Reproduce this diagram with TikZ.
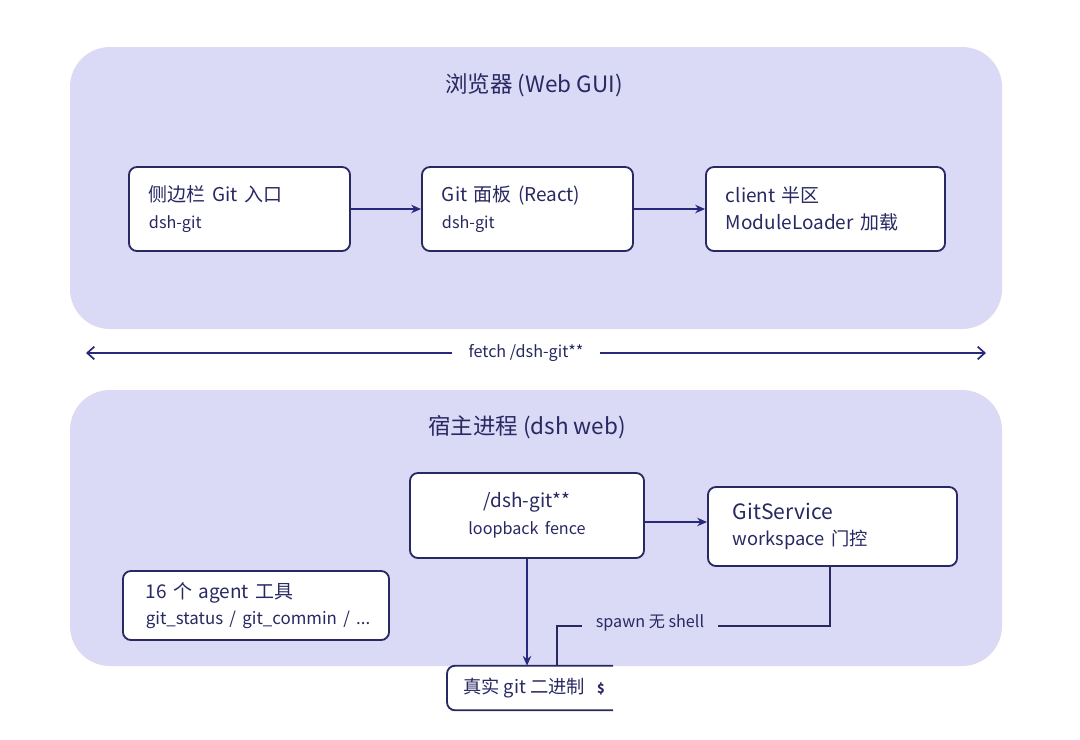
\documentclass[tikz,border=0pt]{standalone}
\usepackage{fontspec}
\setmainfont{Noto Sans CJK SC}
\usepackage{tikz}
\usetikzlibrary{arrows.meta,positioning}
\definecolor{panelfill}{RGB}{218,218,247}
\definecolor{navy}{RGB}{40,40,98}
\definecolor{inkblue}{RGB}{40,40,125}
\newcommand{\subline}[1]{{\fontsize{11.5}{19}\selectfont #1}}

\begin{document}
\begin{tikzpicture}[
  x=0.025cm, y=-0.025cm,
  title/.style={text=navy, font=\fontsize{16}{19}\selectfont},
  box/.style={draw=navy, line width=1.3pt, fill=white, rounded corners=0.2cm,
    align=left, inner xsep=0.5cm, inner ysep=0pt, text=navy,
    font=\fontsize{13.5}{19}\selectfont},
  arr/.style={draw=inkblue, line width=1.2pt, -{Stealth[length=7pt,width=6pt]}},
  link/.style={draw=navy, line width=1.1pt},
  lbl/.style={text=navy, font=\fontsize{11.5}{13}\selectfont, inner xsep=6pt}
]
\useasboundingbox[fill=white] (0,0) rectangle (1080,739);

% panels
\fill[panelfill] (70,47) [rounded corners=1cm] rectangle (1002,329);
\fill[panelfill] (70,390) [rounded corners=1cm] rectangle (1002,666);
\node[title] (webtitle) at (534,85) {浏览器 (Web GUI)};
\node[title] (hosttitle) at (527,427) {宿主进程 (dsh web)};

% browser side
\node[box, text width=4.525cm, minimum height=2.1cm] (sidebar) at (239.5,209)
  {侧边栏 Git 入口\\ \subline{dsh-git}};
\node[box, text width=4.275cm, minimum height=2.1cm] (panelui) at (527.5,209)
  {Git 面板 (React)\\ \subline{dsh-git}};
\node[box, text width=4.975cm, minimum height=2.1cm] (client) at (825.5,209)
  {client 半区\\ ModuleLoader 加载};
\draw[arr] (sidebar) -- (panelui);
\draw[arr] (panelui) -- (client);

% fetch
\coordinate (fetchL) at (86,353);
\coordinate (fetchR) at (986,353);
\draw[draw=inkblue, line width=1.2pt, {Straight Barb[length=5pt,width=9pt]}-{Straight Barb[length=5pt,width=9pt]}] (fetchL) -- (fetchR);
\node[lbl, fill=white, inner xsep=12pt] (fetch) at (526,353) {fetch /dsh-git**};

% host side
\node[box, align=center, text width=4.85cm, minimum height=2.125cm] (route) at (527,515.5)
  {/dsh-git**\\ \subline{loopback fence}};
\node[box, inner xsep=0.625cm, text width=4.975cm, minimum height=1.975cm] (gitsvc) at (832.5,526.5)
  {{\fontsize{15}{19}\selectfont GitService}\\ {\fontsize{13}{19}\selectfont workspace 门控}};
\node[box, inner xsep=0.575cm, text width=5.5cm, minimum height=1.725cm] (tools) at (256,605.5)
  {16 个 agent 工具\\ \mbox{\fontsize{12}{19}\selectfont git\_status / git\_commin / ...}};
\node[text=navy, font=\fontsize{13}{15}\selectfont, minimum height=1.1cm,
  inner xsep=0.4cm, anchor=west] (gitbin) at (447,688)
  {真实 git 二进制\hspace{0.3cm}{\fontsize{9}{10}\selectfont\bfseries\$}};
\draw[draw=navy, line width=1.3pt, rounded corners=0.2cm]
  ([xshift=-0.2cm]gitbin.north east) -- (gitbin.north west) -- (gitbin.south west) -- ([xshift=-0.2cm]gitbin.south east);

\draw[arr] (route.east |- 0,522) -- (gitsvc.west |- 0,522);
\draw[arr] (route.south) -- (route.south |- gitbin.north);
\coordinate (spawnbend) at (557,626);
\draw[link] (gitsvc.south -| 830,0) |- (spawnbend) -- (spawnbend |- gitbin.north);
\node[lbl, fill=panelfill, inner xsep=10pt] (spawn) at (650,623) {spawn 无 shell};
\end{tikzpicture}
\end{document}
